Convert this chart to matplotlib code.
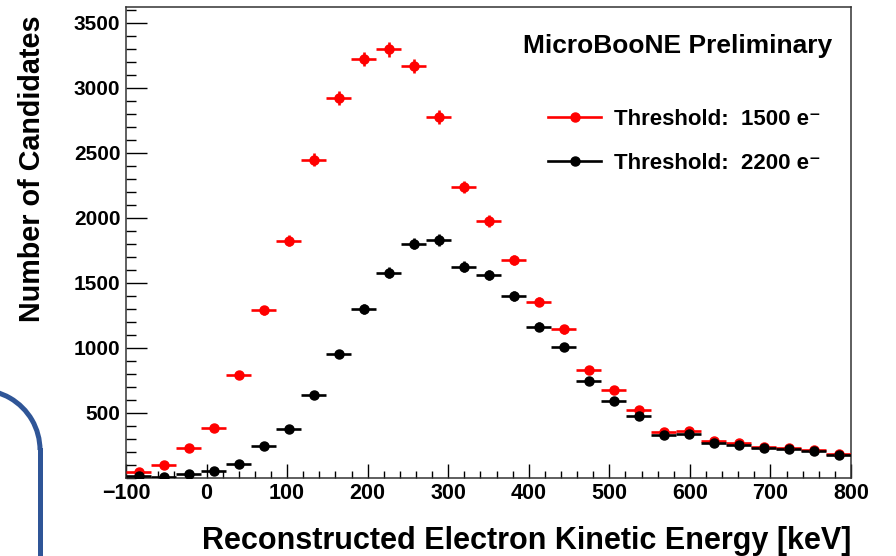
import numpy as np
import matplotlib
matplotlib.use("Agg")
import matplotlib.pyplot as plt
from matplotlib.lines import Line2D
from matplotlib.patches import Arc
from matplotlib.ticker import MultipleLocator, FixedLocator

plt.rcParams['font.family'] = ['Liberation Sans', 'DejaVu Sans']
plt.rcParams['font.weight'] = 'bold'

# ---- data ----
x_min, x_max, n_bins = -100.0, 800.0, 29
edges = np.linspace(x_min, x_max, n_bins + 1)
centers = 0.5 * (edges[:-1] + edges[1:])
half_width = 0.5 * (edges[1] - edges[0])

red_counts = [41, 95, 226, 382, 792, 1288, 1823, 2444, 2921, 3221, 3295, 3165,
              2772, 2238, 1973, 1675, 1354, 1141, 828, 675, 521, 354, 362, 285,
              270, 239, 228, 213, 182]
black_counts = [13, 8, 26, 52, 103, 244, 372, 634, 952, 1298, 1577, 1800,
                1828, 1623, 1557, 1395, 1162, 1008, 746, 592, 475, 328, 338, 267,
                249, 228, 221, 205, 175]

label_red = "Threshold:  1500 e\u207b"
label_black = "Threshold:  2200 e\u207b"
x_ticks = [-100, 0, 100, 200, 300, 400, 500, 600, 700, 800]
y_ticks = [500, 1000, 1500, 2000, 2500, 3000, 3500]

W, H = 896, 556
fig = plt.figure(figsize=(W / 100, H / 100), dpi=100)
ax = fig.add_axes([126 / W, 1 - 477.7 / H, (851 - 126) / W, (477.7 - 7) / H])

for counts, col in [(red_counts, 'red'), (black_counts, 'black')]:
    c = np.array(counts, dtype=float)
    ax.errorbar(centers, c, xerr=half_width, yerr=np.sqrt(c), fmt='o', color=col,
                ms=6.5, elinewidth=1.9, capsize=0, zorder=3)

ax.set_xlim(x_min, x_max)
ax.set_ylim(0, 3620)
ax.xaxis.set_major_locator(FixedLocator(x_ticks))
ax.xaxis.set_minor_locator(MultipleLocator(20))
ax.yaxis.set_major_locator(FixedLocator(y_ticks))
ax.yaxis.set_minor_locator(MultipleLocator(100))
ax.tick_params(axis='x', which='major', direction='in', length=10, width=1.0, labelsize=15.5, pad=3.5)
ax.tick_params(axis='x', which='minor', direction='in', length=5, width=1.0)
ax.tick_params(axis='y', which='major', direction='in', length=15, width=1.0, labelsize=15, pad=4)
ax.tick_params(axis='y', which='minor', direction='in', length=7.5, width=1.0)
for lab in ax.get_xticklabels() + ax.get_yticklabels():
    lab.set_fontweight('bold')
for s in ax.spines.values():
    s.set_linewidth(1.1)
    s.set_color('#333333')

ax.set_xlabel("Reconstructed Electron Kinetic Energy [keV]", fontsize=22,
              fontweight='bold', ha='right', x=1.0, labelpad=16)
ax.set_ylabel("Number of Candidates", fontsize=20.7, fontweight='bold',
              ha='right', y=0.982, labelpad=20)

ax.text(0.974, 0.918, "MicroBooNE Preliminary", transform=ax.transAxes,
        ha='right', va='center', fontsize=19, fontweight='bold')

handles = [Line2D([], [], color='red', marker='o', ms=6.5, lw=1.9),
           Line2D([], [], color='black', marker='o', ms=6.5, lw=1.9)]
ax.legend(handles, [label_red, label_black], loc='upper left',
          bbox_to_anchor=(0.582, 0.783), frameon=False,
          prop={'weight': 'bold', 'size': 16},
          handlelength=2.4, handletextpad=0.55, labelspacing=1.02,
          borderpad=0, borderaxespad=0)

# decorative slide frame corner at lower left
blue = '#2F5597'
cx, cy, r = -0.20, (H - 450) / 100, 0.60
arc = Arc((cx, cy), 2 * r, 2 * r, theta1=0, theta2=120, color=blue, lw=3.6,
          transform=fig.dpi_scale_trans)
fig.add_artist(arc)
fig.add_artist(Line2D([cx + r, cx + r], [cy, 0], color=blue, lw=3.6,
                      transform=fig.dpi_scale_trans))

fig.savefig("out.png", dpi=100)
